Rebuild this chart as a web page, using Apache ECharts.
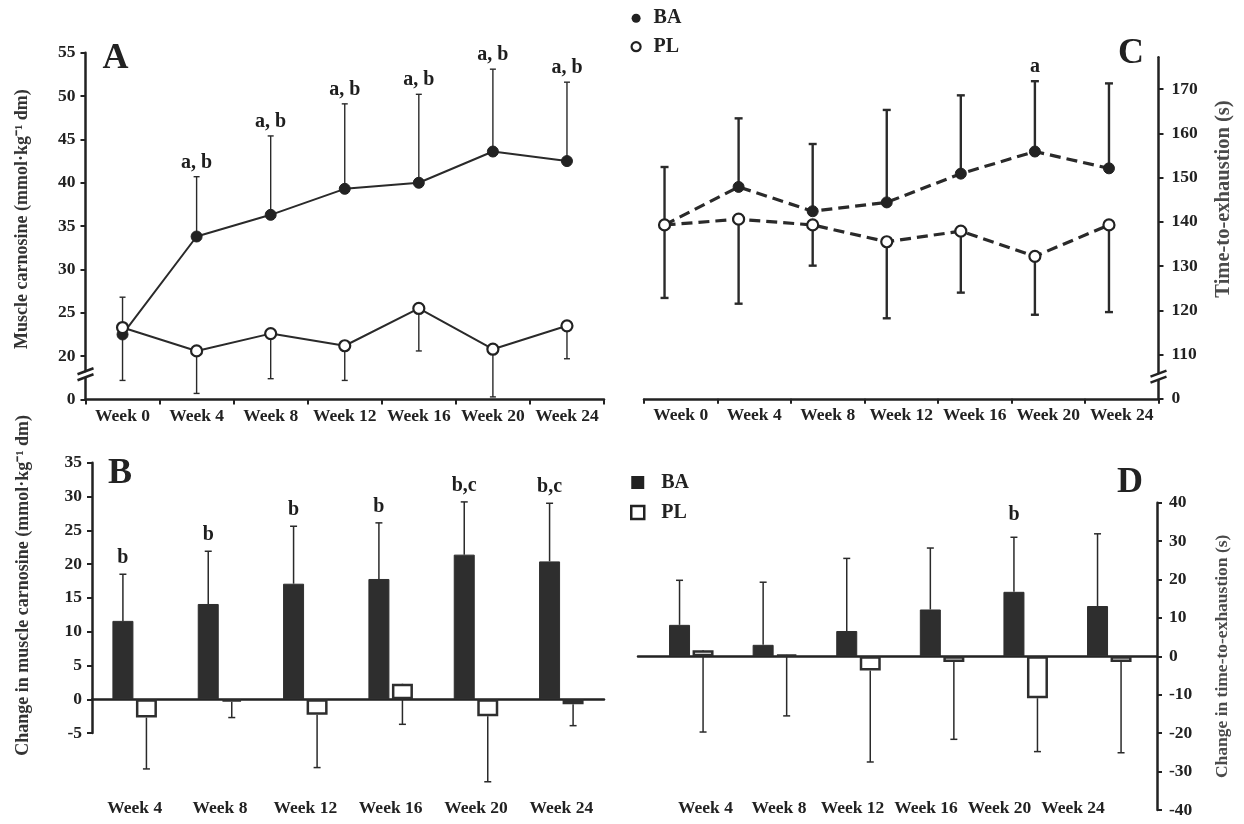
<!DOCTYPE html>
<html>
<head>
<meta charset="utf-8">
<script src="https://cdn.jsdelivr.net/npm/echarts@6/dist/echarts.min.js"></script>
<style>html,body{margin:0;padding:0;background:#fff;}#c{width:1244px;height:824px;}</style>
</head>
<body>
<div id="c"></div>
<script>
// ---------- data ----------
const weeksAll = ['Week 0','Week 4','Week 8','Week 12','Week 16','Week 20','Week 24'];
const weeksChange = ['Week 4','Week 8','Week 12','Week 16','Week 20','Week 24'];

// Panel A: muscle carnosine (mmol·kg-1 dm)
const carnBA      = [22.5, 33.8, 36.3, 39.3, 40.0, 43.6, 42.5];
const carnBAUpper = [26.8, 40.7, 45.4, 49.1, 50.2, 53.1, 51.6];
const carnPL      = [23.3, 20.6, 22.6, 21.2, 25.5, 20.8, 23.5];
const carnPLLower = [17.2, 15.7, 17.4, 17.2, 20.6, 15.3, 19.7];
const carnSig     = ['', 'a, b', 'a, b', 'a, b', 'a, b', 'a, b', 'a, b'];

// Panel C: time-to-exhaustion (s)
const tteBA      = [139.3, 147.9, 142.4, 144.4, 150.9, 155.9, 152.1];
const tteBAUpper = [152.4, 163.4, 157.6, 165.3, 168.6, 171.8, 171.3];
const ttePL      = [139.3, 140.6, 139.3, 135.5, 137.9, 132.2, 139.3];
const ttePLLower = [122.8, 121.5, 130.1, 118.2, 124.0, 119.0, 119.6];
const tteSig     = ['', '', '', '', '', 'a', ''];

// Panel B: change in muscle carnosine
const dCarnBA      = [11.6, 14.1, 17.1, 17.8, 21.4, 20.4];
const dCarnBAUpper = [18.5, 21.9, 25.6, 26.1, 29.2, 29.0];
const dCarnPL      = [-2.7, -0.35, -2.3, 2.3, -2.5, -0.75];
const dCarnPLLower = [-10.3, -2.7, -10.1, -3.7, -12.2, -3.9];
const dCarnSig     = ['b', 'b', 'b', 'b', 'b,c', 'b,c'];

// Panel D: change in time-to-exhaustion
const dTteBA      = [8.2, 3.0, 6.6, 12.2, 16.8, 13.1];
const dTteBAUpper = [19.8, 19.3, 25.5, 28.2, 31.0, 31.9];
const dTtePL      = [1.6, 0.4, -3.7, -1.5, -10.9, -1.5];
const dTtePLLower = [-19.7, -15.5, -27.5, -21.6, -24.8, -25.1];
const dTteSig     = ['', '', '', '', 'b', ''];

// tick values
const carnTicks = [15, 20, 25, 30, 35, 40, 45, 50, 55];       // 15 shown as "0" (broken axis)
const tteTicks  = [100, 110, 120, 130, 140, 150, 160, 170];   // 100 shown as "0" (broken axis)

// ---------- styles ----------
const FONT = 'Liberation Serif';
const INK = '#222';
const BAR_W = 21, BAR_GAP = 0.12;
const BAR_OFF = (BAR_W * (1 + BAR_GAP)) / 2;

const tickLabel = { fontFamily: FONT, fontSize: 17.5, fontWeight: 'bold', color: INK };
const nameStyle = (size, color, pad) => ({ fontFamily: FONT, fontSize: size, fontWeight: 'bold', color: color, padding: pad });

// layout
const gA  = { left: 85.5, top: 52.7, width: 518.5, height: 346.8 };
const gC  = { left: 644, top: 57.3, width: 514.5, height: 341.5 };
const gCp = { left: 627.5, top: 57.3, width: 518.5, height: 341.5 };
const gBa = { left: 92, top: 462.7, width: 512, height: 40 * 6.76 };
const gBd = { left: 92, top: 462.7, width: 512, height: 49 * 6.76 };
const gDa = { left: 638, top: 502.7, width: 519, height: 307.3 };
const gDb = { left: 649.5, top: 502.7, width: 501.6, height: 307.3 };
const gDl = { left: 668.75, top: 502.7, width: 441, height: 290 };

const grids = [gA, gC, gCp, gBa, gBd, gDa, gDb, gDl].map(g => Object.assign({ show: false, outerBoundsMode: 'none', containLabel: false }, g));

function hiddenX(i, data) { return { gridIndex: i, type: 'category', data: data, show: false }; }
function hiddenY(i, min, max) { return { gridIndex: i, type: 'value', min: min, max: max, show: false }; }

const axisLineStyle = { show: true, onZero: false, lineStyle: { color: INK, width: 2.5 } };

const xAxes = [
  { gridIndex: 0, type: 'category', data: weeksAll, axisLine: axisLineStyle,
    axisTick: { show: true, length: 5, lineStyle: { color: INK, width: 2 } },
    axisLabel: Object.assign({ margin: 8, interval: 0 }, tickLabel), splitLine: { show: false } },
  { gridIndex: 1, type: 'category', data: weeksAll, axisLine: axisLineStyle,
    axisTick: { show: true, length: 5, lineStyle: { color: INK, width: 2 } },
    axisLabel: Object.assign({ margin: 8, interval: 0 }, tickLabel), splitLine: { show: false } },
  hiddenX(2, weeksAll),
  { gridIndex: 3, type: 'category', data: weeksChange,
    axisLine: { show: true, onZero: true, lineStyle: { color: INK, width: 2.5 } },
    axisTick: { show: false }, axisLabel: { show: false }, splitLine: { show: false } },
  { gridIndex: 4, type: 'category', data: weeksChange, axisLine: { show: false }, axisTick: { show: false },
    axisLabel: Object.assign({ margin: 6, interval: 0 }, tickLabel), splitLine: { show: false } },
  { gridIndex: 5, type: 'category', data: weeksChange,
    axisLine: { show: true, onZero: true, lineStyle: { color: INK, width: 2.5 } },
    axisTick: { show: false }, axisLabel: { show: false }, splitLine: { show: false } },
  hiddenX(6, weeksChange),
  { gridIndex: 7, type: 'category', data: weeksChange, axisLine: { show: false }, axisTick: { show: false },
    axisLabel: Object.assign({ margin: 7, interval: 0 }, tickLabel), splitLine: { show: false } }
];

const yTick = { show: true, length: 5, lineStyle: { color: INK, width: 2 } };

const yAxes = [
  { gridIndex: 0, type: 'value', min: 15, max: 55, interval: 5,
    axisLine: { show: true, lineStyle: { color: INK, width: 2.5 } }, axisTick: yTick, splitLine: { show: false },
    axisLabel: Object.assign({ margin: 10, customValues: carnTicks, formatter: v => (v === 15 ? '0' : String(v)) }, tickLabel),
    name: 'Muscle carnosine (mmol·kg⁻¹ dm)', nameLocation: 'middle', nameRotate: 90, nameGap: 54,
    nameTextStyle: nameStyle(18, '#333', [0, 0, 0, 14]) },
  { gridIndex: 1, type: 'value', position: 'right', min: 100, max: 177.2, interval: 10,
    axisLine: { show: true, lineStyle: { color: INK, width: 2.5 } },
    axisTick: Object.assign({ customValues: tteTicks }, yTick), splitLine: { show: false },
    axisLabel: Object.assign({ margin: 13, customValues: tteTicks, formatter: v => (v === 100 ? '0' : (v % 10 === 0 ? String(v) : '')) }, tickLabel),
    name: 'Time-to-exhaustion (s)', nameLocation: 'middle', nameRotate: 90, nameGap: 55,
    nameTextStyle: nameStyle(20.5, '#4a4a4a', [0, 0, 0, 58]) },
  hiddenY(2, 100, 177.2),
  { gridIndex: 3, type: 'value', min: -5, max: 35, interval: 5,
    axisLine: { show: true, lineStyle: { color: INK, width: 2.5 } }, axisTick: yTick, splitLine: { show: false },
    axisLabel: Object.assign({ margin: 10 }, tickLabel),
    name: 'Change in muscle carnosine (mmol·kg⁻¹ dm)', nameLocation: 'middle', nameRotate: 90, nameGap: 60,
    nameTextStyle: nameStyle(18, '#333', [0, 0, 0, 25]) },
  hiddenY(4, -14, 35),
  { gridIndex: 5, type: 'value', position: 'right', min: -40, max: 40, interval: 10,
    axisLine: { show: true, lineStyle: { color: INK, width: 2.5 } }, axisTick: yTick, splitLine: { show: false },
    axisLabel: Object.assign({ margin: 12 }, tickLabel),
    name: 'Change in time-to-exhaustion (s)', nameLocation: 'middle', nameRotate: 90, nameGap: 56,
    nameTextStyle: nameStyle(17.5, '#4a4a4a', [0, 0, 0, 0]) },
  hiddenY(6, -40, 40),
  hiddenY(7, 0, 1)
];

function errSeries(axis, vals, ends, dx, cap, lw) {
  return {
    type: 'custom', xAxisIndex: axis, yAxisIndex: axis, z: 1, silent: true,
    data: vals.map((v, i) => [i, v, ends[i]]),
    renderItem: function (params, api) {
      const i = api.value(0);
      const a = api.coord([i, api.value(1)]);
      const b = api.coord([i, api.value(2)]);
      const x = a[0] + dx;
      const st = { stroke: '#2a2a2a', lineWidth: lw };
      return { type: 'group', children: [
        { type: 'line', shape: { x1: x, y1: a[1], x2: x, y2: b[1] }, style: st },
        { type: 'line', shape: { x1: x - cap, y1: b[1], x2: x + cap, y2: b[1] }, style: st }
      ] };
    }
  };
}

// significance letters placed above the error-bar ends
function sigSeries(axis, ends, sig, dx, dist) {
  const idx = sig.map((s, i) => i).filter(i => sig[i] !== '');
  return {
    type: 'custom', xAxisIndex: axis, yAxisIndex: axis, z: 5, silent: true,
    data: idx.map(i => [i, ends[i]]),
    renderItem: function (params, api) {
      const i = api.value(0);
      const p = api.coord([i, api.value(1)]);
      return { type: 'text', x: p[0] + dx, y: p[1] - dist,
        style: { text: sig[i], fontFamily: FONT, fontSize: 20, fontWeight: 'bold', fill: '#1e1e1e',
          align: 'center', verticalAlign: 'bottom' } };
    }
  };
}

function lineSeries(axis, name, vals, filled, dashed) {
  return {
    type: 'line', name: name, xAxisIndex: axis, yAxisIndex: axis, data: vals, z: 3,
    symbol: 'circle', symbolSize: 11, showSymbol: true,
    itemStyle: filled ? { color: '#222', borderColor: '#222', borderWidth: 1 } : { color: '#fff', borderColor: '#222', borderWidth: 2.2 },
    lineStyle: dashed ? { color: '#2a2a2a', width: 3.2, type: [11, 6] } : { color: '#2a2a2a', width: 2 }
  };
}

function barSeries(axis, name, vals, filled) {
  return {
    type: 'bar', name: name, xAxisIndex: axis, yAxisIndex: axis, data: vals, z: 2,
    barWidth: BAR_W, barGap: (BAR_GAP * 100) + '%',
    itemStyle: filled ? { color: '#2e2e2e', borderColor: '#2e2e2e', borderWidth: 1 } : { color: '#fff', borderColor: '#2e2e2e', borderWidth: 2.5 }
  };
}

const series = [
  // A
  errSeries(0, carnBA, carnBAUpper, 0, 3, 1.4),
  errSeries(0, carnPL, carnPLLower, 0, 3, 1.4),
  lineSeries(0, 'BA', carnBA, true, false),
  lineSeries(0, 'PL', carnPL, false, false),
  sigSeries(0, carnBAUpper, carnSig, 0, 4),
  // C
  errSeries(2, tteBA, tteBAUpper, 0, 4, 2.4),
  errSeries(2, ttePL, ttePLLower, 0, 4, 2.4),
  lineSeries(2, 'BA', tteBA, true, true),
  lineSeries(2, 'PL', ttePL, false, true),
  sigSeries(2, tteBAUpper, tteSig, 0, 4),
  // B
  errSeries(4, dCarnBA, dCarnBAUpper, -BAR_OFF, 3.5, 1.5),
  errSeries(4, dCarnPL, dCarnPLLower, BAR_OFF, 3.5, 1.5),
  barSeries(4, 'BA', dCarnBA, true),
  barSeries(4, 'PL', dCarnPL, false),
  sigSeries(4, dCarnBAUpper, dCarnSig, -BAR_OFF, 6),
  // D
  errSeries(6, dTteBA, dTteBAUpper, -BAR_OFF, 3.5, 1.5),
  errSeries(6, dTtePL, dTtePLLower, BAR_OFF, 3.5, 1.5),
  barSeries(6, 'BA', dTteBA, true),
  barSeries(6, 'PL', dTtePL, false),
  sigSeries(6, dTteBAUpper, dTteSig, -BAR_OFF, 12)
];

const legendText = { fontFamily: FONT, fontSize: 20, fontWeight: 'bold', color: INK, lineHeight: 20 };

const option = {
  animation: false,
  backgroundColor: '#fff',
  grid: grids,
  xAxis: xAxes,
  yAxis: yAxes,
  legend: [
    { orient: 'vertical', left: 630.5, top: 8.3, padding: 0, itemWidth: 9, itemHeight: 9, itemGap: 8.4,
      selectedMode: false, textStyle: Object.assign({ padding: [0, 0, 0, 8] }, legendText),
      data: [
        { name: 'BA', icon: 'circle', itemStyle: { color: '#222', borderWidth: 0 } },
        { name: 'PL', icon: 'circle', itemStyle: { color: '#fff', borderColor: '#222', borderWidth: 2.2 } }
      ] },
    { orient: 'vertical', left: 630, top: 472.5, padding: 0, itemWidth: 13, itemHeight: 13, itemGap: 10,
      selectedMode: false, textStyle: Object.assign({ padding: [0, 0, 0, 12] }, legendText),
      data: [
        { name: 'BA', icon: 'rect', itemStyle: { color: '#222', borderWidth: 0 } },
        { name: 'PL', icon: 'rect', itemStyle: { color: '#fff', borderColor: '#222', borderWidth: 2.5 } }
      ] }
  ],
  series: series
};

const chart = echarts.init(document.getElementById('c'), null, { renderer: 'canvas' });
chart.setOption(option);

// panel letters and axis-break marks
function breakMark(cx, cy) {
  const s = { stroke: '#222', lineWidth: 2.5 };
  return [
    { type: 'polygon', shape: { points: [[cx - 8, cy + 2], [cx + 8, cy - 4], [cx + 8, cy + 1], [cx - 8, cy + 7]] }, style: { fill: '#fff' }, z: 100 },
    { type: 'line', shape: { x1: cx - 8, y1: cy + 1, x2: cx + 8, y2: cy - 5 }, style: s, z: 101 },
    { type: 'line', shape: { x1: cx - 8, y1: cy + 7, x2: cx + 8, y2: cy + 1 }, style: s, z: 101 }
  ];
}
const yBreakA = chart.convertToPixel({ yAxisIndex: 0 }, 17.8);
const yBreakC = chart.convertToPixel({ yAxisIndex: 1 }, 104.8);
const letter = (t, x, y) => ({ type: 'text', x: x, y: y, z: 100,
  style: { text: t, fontFamily: FONT, fontSize: 36, fontWeight: 'bold', fill: '#222', align: 'center', verticalAlign: 'middle' } });

chart.setOption({
  graphic: [
    letter('A', 115.5, 59),
    letter('B', 120, 474),
    letter('C', 1131, 54),
    letter('D', 1130, 483)
  ].concat(breakMark(gA.left, yBreakA - 2), breakMark(gC.left + gC.width, yBreakC - 2))
});
</script>
</body>
</html>
